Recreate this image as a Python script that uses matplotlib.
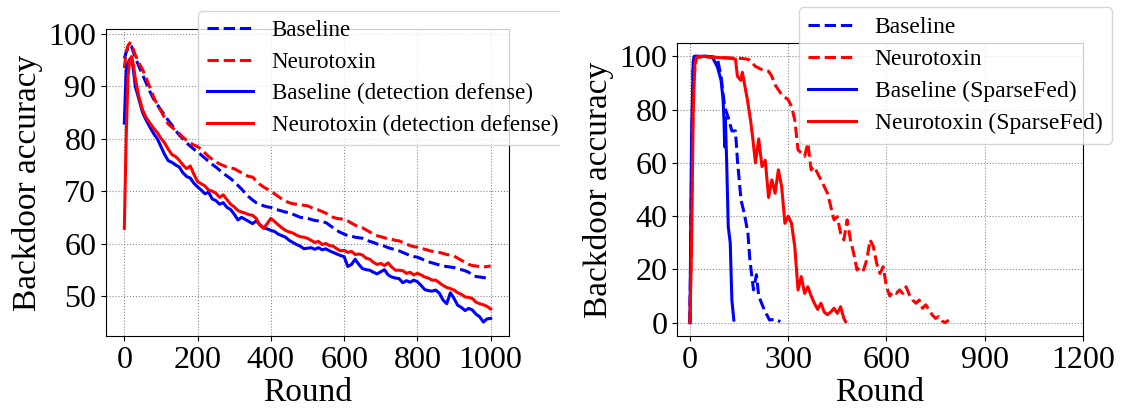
import numpy as np
import matplotlib
matplotlib.use("Agg")
import matplotlib.pyplot as plt
from matplotlib.patches import Rectangle

plt.rcParams.update({
    "font.family": ["Liberation Serif", "DejaVu Serif"],
    "font.size": 24,
    "xtick.labelsize": 23, "ytick.labelsize": 23,
    "axes.labelsize": 24, "legend.fontsize": 17,
})

# ---------- left panel: detection defense ----------
L_ROUNDS = [0, 5, 10, 15, 20, 25, 30, 40, 50, 60, 70, 80, 90] + list(range(100, 1001, 10))

L_BASE = [95.3, 96.5, 97.3, 97.9, 97.6, 96.5, 95.5, 93.8, 92.2, 90.6, 89.0, 87.6, 86.5,
          85.5, 84.5, 83.5, 82.6, 81.6, 80.7, 80.0, 79.2, 78.6, 78.0,
          77.5, 76.9, 76.3, 75.7, 75.1, 74.6, 74.0, 73.4, 72.9, 72.4,
          71.8, 71.1, 70.4, 69.6, 68.9, 68.3, 67.8, 67.5, 67.2, 67.0,
          66.9, 66.6, 66.4, 66.2, 66.0, 65.9, 65.6, 65.3, 65.0, 64.9,
          64.8, 64.6, 64.4, 64.3, 64.1, 64.0, 63.5, 63.0, 62.5, 62.1,
          61.8, 61.5, 61.4, 61.2, 61.1, 61.0, 60.7, 60.4, 60.2, 59.9,
          59.7, 59.5, 59.2, 59.0, 58.8, 58.6, 58.3, 58.0, 57.7, 57.5,
          57.4, 57.1, 56.8, 56.5, 56.3, 56.1, 55.9, 55.7, 55.6, 55.5,
          55.4, 55.2, 55.0, 54.8, 54.5, 54.0, 53.7, 53.6, 53.5, 53.4, 53.4]

L_NEURO = [93.5, 96.5, 97.8, 98.3, 98.0, 97.0, 96.0, 94.5, 93.2, 91.5, 89.8, 88.0, 86.5,
           85.3, 84.0, 82.8, 82.2, 81.6, 81.0, 80.3, 79.7, 79.2, 78.8,
           78.5, 78.0, 77.3, 76.6, 76.1, 75.6, 75.2, 74.9, 74.6, 74.4,
           74.3, 73.9, 73.5, 73.1, 72.8, 72.7, 72.0, 71.3, 70.8, 70.4,
           70.0, 69.5, 69.0, 68.5, 68.1, 67.8, 67.6, 67.5, 67.4, 67.3,
           67.2, 66.9, 66.6, 66.4, 66.1, 65.8, 65.4, 65.0, 64.8, 64.7,
           64.6, 64.3, 63.9, 63.5, 63.2, 63.0, 62.6, 62.2, 61.8, 61.5,
           61.3, 61.1, 60.9, 60.8, 60.6, 60.5, 60.2, 59.9, 59.6, 59.4,
           59.3, 59.1, 58.9, 58.7, 58.5, 58.4, 58.3, 58.1, 57.9, 57.8,
           57.6, 57.2, 56.8, 56.4, 56.0, 55.8, 55.7, 55.6, 55.5, 55.6, 55.7]

L_BASE_DET = [83.0, 93.0, 94.5, 95.2, 95.5, 93.0, 90.0, 87.5, 85.0, 83.5, 82.2, 81.0, 80.0,
              78.5, 77.0, 75.8, 75.5, 75.0, 74.6, 73.5, 72.8, 72.5, 71.5,
              70.8, 70.2, 69.5, 69.8, 68.5, 68.2, 67.5, 67.8, 66.9, 66.5,
              65.6, 64.5, 65.0, 64.6, 64.2, 63.8, 64.3, 63.6, 63.0, 62.8,
              62.5, 62.3, 61.8, 61.5, 61.2, 60.6, 60.2, 59.8, 59.5, 59.0,
              59.1, 59.2, 58.9, 59.2, 58.8, 59.0, 58.6, 58.3, 58.0, 57.7,
              57.5, 55.6, 56.0, 57.0, 56.0, 55.2, 55.0, 54.9, 54.5, 54.2,
              54.6, 55.0, 54.0, 53.6, 53.4, 53.3, 52.5, 52.9, 52.6, 53.0,
              52.7, 52.0, 51.2, 51.0, 50.9, 51.1, 50.5, 49.2, 48.5, 50.6,
              49.5, 48.2, 47.8, 47.2, 47.6, 47.3, 46.5, 46.0, 45.0, 45.6, 45.7]

L_NEURO_DET = [62.9, 80.0, 92.0, 95.0, 95.7, 94.0, 91.5, 88.0, 85.5, 84.0, 83.0, 82.0, 81.2,
               80.1, 79.2, 78.0, 77.0, 76.6, 75.9, 75.0, 74.3, 74.8, 73.2,
               71.8, 71.4, 71.0, 70.2, 70.0, 69.6, 68.8, 69.3, 68.4, 67.5,
               67.0, 66.3, 66.0, 65.8, 65.5, 65.4, 64.8, 63.5, 62.9, 63.8,
               64.8, 64.2, 63.6, 63.0, 62.5, 62.2, 62.0, 61.6, 61.3, 61.2,
               61.0, 60.6, 60.2, 60.4, 59.8, 60.0, 59.6, 59.5, 59.0, 58.6,
               58.7, 58.3, 58.5, 57.9, 58.0, 57.8, 57.2, 57.0, 56.4, 56.0,
               56.2, 55.8, 56.3, 55.5, 54.9, 54.9, 54.8, 54.3, 54.5, 54.0,
               54.3, 54.0, 53.6, 53.4, 53.0, 53.0, 52.5, 52.0, 51.6, 51.4,
               51.1, 50.6, 50.3, 49.8, 49.7, 49.5, 48.8, 48.5, 48.3, 48.0, 47.5]

# ---------- right panel: SparseFed ----------
R_BASE_X = [0, 5, 10, 15, 30, 50, 70, 84, 95, 106, 117, 128, 139, 145, 156, 166, 177,
            183, 194, 203, 210, 227, 243, 260, 276]
R_BASE_Y = [0.0, 60.0, 97.0, 100.0, 100.0, 100.0, 99.8, 99.0, 92.5, 81.0, 77.0, 72.0,
            72.0, 61.0, 46.0, 41.0, 33.6, 23.6, 12.3, 18.0, 10.0, 4.8, 1.0, 1.3, 0.4]

R_NEURO_X = [0, 5, 10, 20, 40, 80, 120, 160, 180, 200, 220, 240, 250, 260, 280, 300, 310,
             320, 330, 340, 350, 360, 370, 380, 390, 400, 410, 420, 430, 440, 450, 460,
             470, 480, 490, 500, 510, 520, 530, 540, 550, 560, 570, 580, 590, 600, 610,
             620, 630, 640, 650, 660, 670, 680, 690, 700, 710, 720, 730, 740, 750, 760,
             770, 780, 790]
R_NEURO_Y = [0.0, 40.0, 90.0, 99.5, 99.8, 99.6, 99.4, 99.2, 98.8, 96.2, 95.0, 94.4,
             92.5, 89.3, 85.6, 83.7, 81.2, 76.2, 64.9, 63.7, 62.4, 67.4, 57.4, 58.6,
             56.0, 53.6, 51.1, 48.6, 43.6, 38.6, 39.8, 33.6, 31.1, 38.6, 31.1, 26.0,
             19.8, 21.0, 19.8, 23.6, 31.1, 28.6, 22.3, 18.5, 21.0, 13.5, 10.0, 11.7,
             11.0, 12.3, 11.0, 13.5, 10.4, 8.5, 7.3, 8.5, 5.4, 6.7, 4.8, 2.9, 1.6,
             2.3, 0.6, 0.0, 1.0]

R_BASE_SF_X = [0, 5, 10, 13, 30, 50, 68, 84, 95, 101, 104, 106, 108, 112, 117, 123,
               128, 134]
R_BASE_SF_Y = [0.0, 70.0, 98.0, 100.0, 100.0, 100.0, 99.8, 96.0, 91.0, 84.0, 76.0,
               66.0, 77.0, 61.0, 36.0, 30.0, 8.5, 1.0]

R_NEURO_SF_X = [0, 5, 10, 15, 20, 40, 80, 120, 139, 145, 155, 160, 175, 185, 192, 200,
                210, 220, 230, 240, 250, 260, 270, 280, 290, 300, 310, 320, 330, 340,
                350, 360, 370, 380, 390, 400, 410, 420, 430, 440, 450, 460, 470, 475]
R_NEURO_SF_Y = [0.0, 30.0, 80.0, 97.0, 99.8, 100.0, 99.6, 99.3, 99.0, 92.5, 91.0,
                94.0, 84.0, 76.0, 69.0, 60.0, 69.0, 58.6, 61.0, 47.0, 53.6, 48.6,
                57.4, 51.0, 37.3, 40.0, 37.3, 28.6, 12.3, 17.3, 11.0, 13.5, 10.0,
                7.3, 5.0, 7.3, 4.0, 3.0, 4.0, 5.4, 3.5, 6.0, 1.6, 0.4]

W, H = 1122, 408
fig = plt.figure(figsize=(W / 100, H / 100), dpi=100)


def style(ax):
    ax.grid(True, color="0.55", linestyle=":", linewidth=0.8)
    ax.set_axisbelow(True)
    ax.set_xlabel("Round", labelpad=2)
    ax.set_ylabel("Backdoor accuracy", labelpad=4)


def legend(ax, x_px, y_px, size):
    ax.legend(loc="upper left", bbox_to_anchor=(x_px / W, 1 - y_px / H),
              bbox_transform=fig.transFigure, borderaxespad=0, labelspacing=0.45,
              fontsize=size)


LW = 2.2
ax1 = fig.add_axes([106 / W, 1 - 336 / H, (509 - 106) / W, (336 - 29) / H])
ax1.plot(L_ROUNDS, L_BASE, color="blue", ls="--", lw=LW, label="Baseline")
ax1.plot(L_ROUNDS, L_NEURO, color="red", ls="--", lw=LW, label="Neurotoxin")
ax1.plot(L_ROUNDS, L_BASE_DET, color="blue", lw=LW, label="Baseline (detection defense)")
ax1.plot(L_ROUNDS, L_NEURO_DET, color="red", lw=LW, label="Neurotoxin (detection defense)")
ax1.set_xticks([0, 200, 400, 600, 800, 1000])
ax1.set_yticks([50, 60, 70, 80, 90, 100])
style(ax1)
legend(ax1, 198, 11, 16.6)

ax2 = fig.add_axes([677 / W, 1 - 336 / H, (1083 - 677) / W, (336 - 43) / H])
ax2.plot(R_BASE_X, R_BASE_Y, color="blue", ls="--", lw=LW, label="Baseline")
ax2.plot(R_NEURO_X, R_NEURO_Y, color="red", ls="--", lw=LW, label="Neurotoxin")
ax2.plot(R_BASE_SF_X, R_BASE_SF_Y, color="blue", lw=LW, label="Baseline (SparseFed)")
ax2.plot(R_NEURO_SF_X, R_NEURO_SF_Y, color="red", lw=LW, label="Neurotoxin (SparseFed)")
ax2.set_xticks([0, 300, 600, 900, 1200])
ax2.set_yticks([0, 20, 40, 60, 80, 100])
style(ax2)
legend(ax2, 799, 7, 17)

# the left panel was cropped in the source figure, cutting its legend's right edge
fig.patches.append(Rectangle((560 / W, 1 - 160 / H), 20 / W, 160 / H,
                             transform=fig.transFigure, facecolor="white",
                             edgecolor="none", zorder=10))

fig.savefig("out.png", dpi=100)
